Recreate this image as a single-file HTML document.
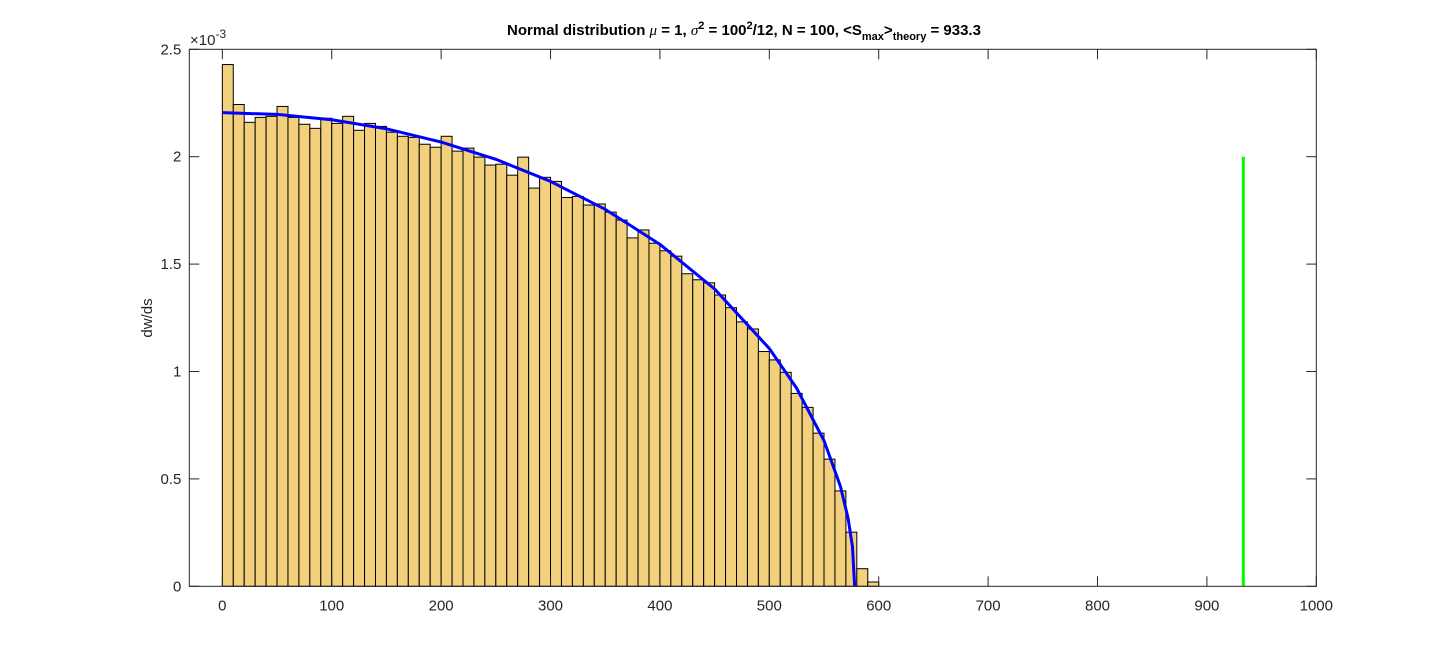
<!DOCTYPE html>
<html><head><meta charset="utf-8"><style>
html,body{margin:0;padding:0;background:#fff;}
svg{display:block;font-family:"Liberation Sans",Arial,sans-serif;}
</style></head><body>
<svg id="chart" width="1455" height="659" viewBox="0 0 1455 659">
<rect x="0" y="0" width="1455" height="659" fill="#fff"/>
<rect x="189.3" y="49.3" width="1127" height="537" fill="#fff"/>
<g id="bars"></g>
<g id="curve"></g>
<g id="axes"></g>
<text x="744" y="35" text-anchor="middle" font-size="15" font-weight="bold" fill="#000">Normal distribution <tspan font-family="Liberation Serif" font-style="italic" font-weight="normal">μ</tspan> = 1, <tspan font-family="Liberation Serif" font-style="italic" font-weight="normal">σ</tspan><tspan dy="-6" font-size="11">2</tspan><tspan dy="6"> = 100</tspan><tspan dy="-6" font-size="11">2</tspan><tspan dy="6">/12, N = 100, &lt;S</tspan><tspan dy="5" font-size="11">max</tspan><tspan dy="-5">&gt;</tspan><tspan dy="5" font-size="11">theory</tspan><tspan dy="-5"> = 933.3</tspan></text>
<text transform="translate(152,318) rotate(-90)" text-anchor="middle" font-size="15" fill="#262626">dw/ds</text>
<text x="190" y="45" font-size="15" fill="#262626">×10<tspan dy="-7" font-size="12">-3</tspan></text>
</svg>
<script>
const binWidth = 10;
const binStarts = [0,10,20,30,40,50,60,70,80,90,100,110,120,130,140,150,160,170,180,190,200,210,220,230,240,250,260,270,280,290,300,310,320,330,340,350,360,370,380,390,400,410,420,430,440,450,460,470,480,490,500,510,520,530,540,550,560,570,580,590];
const binValues = [2.429,2.243,2.160,2.183,2.188,2.234,2.183,2.151,2.132,2.179,2.155,2.188,2.123,2.155,2.141,2.114,2.095,2.090,2.058,2.044,2.095,2.026,2.040,1.998,1.961,1.965,1.914,1.998,1.854,1.904,1.885,1.810,1.815,1.775,1.780,1.742,1.705,1.622,1.659,1.597,1.562,1.537,1.455,1.427,1.413,1.356,1.297,1.231,1.198,1.093,1.054,0.996,0.898,0.833,0.713,0.592,0.444,0.252,0.082,0.020];
const curveS = [0,50,100,150,200,250,300,350,400,450,500,525,550,565,572,576,578];
const curveY = [2.205,2.197,2.172,2.130,2.068,1.988,1.885,1.755,1.592,1.384,1.107,0.922,0.678,0.465,0.317,0.184,0];
const smaxTheory = 933.3;
const smaxHeight = 2.0;
const xTicks = [0,100,200,300,400,500,600,700,800,900,1000];
const yTicks = [0,0.5,1,1.5,2,2.5];
const yTickLabels = ["0","0.5","1","1.5","2","2.5"];

const X0=189.3, X1=1316.3, Y0=586.3, Y1=49.3, XMIN=-30.2, XMAX=1000, YMAX=2.5;
const sx = v => X0 + (v - XMIN) / (XMAX - XMIN) * (X1 - X0);
const sy = v => Y0 - v / YMAX * (Y0 - Y1);
const NS='http://www.w3.org/2000/svg';
function mk(tag, attrs, parent){const e=document.createElementNS(NS,tag);for(const k in attrs)e.setAttribute(k,attrs[k]);parent.appendChild(e);return e;}

const gb=document.getElementById('bars');
binValues.forEach((v,i)=>{
  const x=sx(binStarts[i]), w=sx(binStarts[i]+binWidth)-x;
  const r=mk('rect',{x:x,y:sy(v),width:w,height:Y0-sy(v),fill:'#f3d17c',stroke:'#000','stroke-width':1},gb);
  
  
});

const gc=document.getElementById('curve');
const pts=curveS.map((s,i)=>sx(s).toFixed(2)+','+sy(curveY[i]).toFixed(2)).join(' ');
const pl=mk('polyline',{points:pts,fill:'none',stroke:'#0000ff','stroke-width':3,'stroke-linejoin':'round'},gc);


const gl=mk('line',{x1:sx(smaxTheory),x2:sx(smaxTheory),y1:sy(0),y2:sy(smaxHeight),stroke:'#00ff00','stroke-width':3},gc);



const ga=document.getElementById('axes');
const box=mk('rect',{x:X0,y:Y1,width:X1-X0,height:Y0-Y1,fill:'none',stroke:'#262626','stroke-width':1},ga);


xTicks.forEach(t=>{
  const x=sx(t);
  mk('line',{x1:x,x2:x,y1:Y0,y2:Y0-10,stroke:'#262626'},ga);
  mk('line',{x1:x,x2:x,y1:Y1,y2:Y1+10,stroke:'#262626'},ga);
  const tx=mk('text',{x:x,y:Y0+24,'text-anchor':'middle','font-size':15,fill:'#262626'},ga);
  tx.textContent=String(t);
  
  
});
yTicks.forEach((t,i)=>{
  const y=sy(t);
  mk('line',{x1:X0,x2:X0+10,y1:y,y2:y,stroke:'#262626'},ga);
  mk('line',{x1:X1,x2:X1-10,y1:y,y2:y,stroke:'#262626'},ga);
  const tx=mk('text',{x:X0-8,y:y+5,'text-anchor':'end','font-size':15,fill:'#262626'},ga);
  tx.textContent=yTickLabels[i];
  
  
});
</script>
</body></html>
